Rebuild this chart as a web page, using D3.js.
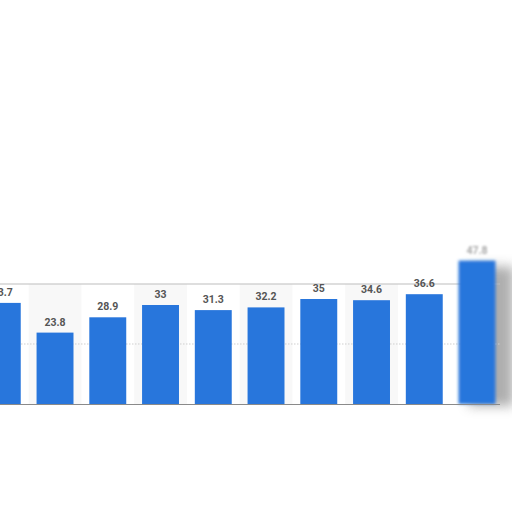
<!doctype html>
<html>
  <head>
    <script src="https://d3js.org/d3.v7.min.js"></script>
    <style>
      body { margin: 0; background: #fff; }
      svg { display: block; }
    </style>
  </head>
  <body>
    <svg class="chart" width=512 height=512></svg>
    <script>
      // values
      var categories = ["2014", "2015", "2016", "2017", "2018", "2019", "2020", "2021", "2022", "2023"];
      var values = [33.7, 23.8, 28.9, 33, 31.3, 32.2, 35, 34.6, 36.6, 47.8];
      var labels = ["33.7", "23.8", "28.9", "33", "31.3", "32.2", "35", "34.6", "36.6", "47.8"];
      var gridTicks = [20, 40];

      var svg = d3.select("svg"),
        baseY = 404,
        topY = 284;

      var xScale = d3.scaleBand().domain(categories).range([-24.1, 503.4])
        .paddingInner(0.3).paddingOuter(0.15);
      var yScale = d3.scaleLinear().domain([0, 40]).range([baseY, topY]);

      var defs = svg.append("defs");
      defs.append("filter").attr("id", "blur").attr("x", "-50%").attr("width", "200%")
        .append("feGaussianBlur").attr("stdDeviation", 1.6);
      defs.append("filter").attr("id", "blurText").attr("x", "-50%").attr("width", "200%")
        .attr("y", "-50%").attr("height", "200%")
        .append("feGaussianBlur").attr("stdDeviation", 1.3);
      defs.append("filter").attr("id", "shadow").attr("x", "-50%").attr("width", "200%")
        .attr("y", "-50%").attr("height", "200%")
        .append("feGaussianBlur").attr("stdDeviation", 6);

      // alternating column shading
      svg.selectAll(".band")
        .data(categories.filter(function(d, i){ return i % 2 == 1 && i < 9; }))
        .enter().append("rect")
        .attr("x", function(d){ return xScale(d) - xScale.step() * 0.15; })
        .attr("y", topY)
        .attr("width", xScale.step())
        .attr("height", baseY - topY)
        .attr("fill", "#f8f8f8");

      // shadow behind the last bar
      var last = categories[categories.length - 1];
      svg.append("rect")
        .attr("x", xScale(last) + 10)
        .attr("y", yScale(values[9]) + 6)
        .attr("width", xScale.bandwidth() + 8)
        .attr("height", baseY - yScale(values[9]) - 4)
        .attr("fill", "#8c8c8c")
        .attr("opacity", 0.7)
        .attr("filter", "url(#shadow)");

      // grid lines
      svg.append("line")
        .attr("x1", 0).attr("x2", 500)
        .attr("y1", yScale(gridTicks[0])).attr("y2", yScale(gridTicks[0]))
        .attr("stroke", "#cfcfcf").attr("stroke-dasharray", "1.5,1.5");
      svg.append("line")
        .attr("x1", 0).attr("x2", 500)
        .attr("y1", yScale(gridTicks[1]) + 2).attr("y2", yScale(gridTicks[1]) + 2)
        .attr("stroke", "#e6e6e6").attr("stroke-width", 3).attr("filter", "url(#blur)");
      svg.append("line")
        .attr("x1", 0).attr("x2", 500)
        .attr("y1", yScale(gridTicks[1])).attr("y2", yScale(gridTicks[1]))
        .attr("stroke", "#bdbdbd").attr("stroke-width", 1.2);

      // bars
      svg.selectAll(".bar")
        .data(values)
        .enter().append("rect")
        .attr("x", function(d, i){ return xScale(categories[i]); })
        .attr("y", function(d){ return yScale(d); })
        .attr("width", xScale.bandwidth())
        .attr("height", function(d){ return baseY - yScale(d); })
        .attr("fill", "#2876dc")
        .attr("filter", function(d, i){ return i == 9 ? "url(#blur)" : null; });

      // baseline
      svg.append("line")
        .attr("x1", 0).attr("x2", 500)
        .attr("y1", baseY + 0.5).attr("y2", baseY + 0.5)
        .attr("stroke", "#8a8a8a").attr("stroke-width", 1.2);

      // value labels
      svg.selectAll(".label")
        .data(values)
        .enter().append("text")
        .attr("x", function(d, i){ return xScale(categories[i]) + xScale.bandwidth() / 2; })
        .attr("y", function(d){ return yScale(d) - 7; })
        .attr("text-anchor", "middle")
        .attr("font-family", "Roboto, 'Open Sans', sans-serif")
        .attr("font-weight", "bold")
        .attr("font-size", 10.5)
        .attr("fill", function(d, i){ return i == 9 ? "#aaa" : "#555"; })
        .attr("filter", function(d, i){ return i == 9 ? "url(#blurText)" : null; })
        .text(function(d, i){ return labels[i]; });
    </script>
  </body>
</html>
